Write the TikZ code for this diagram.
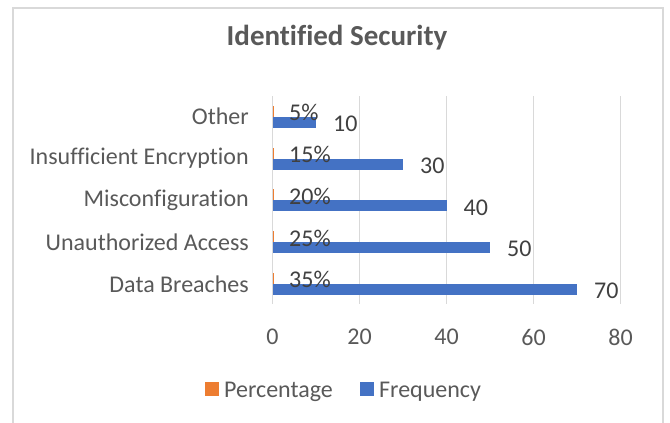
\documentclass[tikz,border=0pt]{standalone}
\usepackage{fontspec}
\setmainfont{Carlito}[Ligatures=NoCommon]
\usepackage{tikz}
\usetikzlibrary{positioning}

\definecolor{freqblue}{HTML}{4472C4}
\definecolor{pctorange}{HTML}{ED7D31}
\definecolor{gridgray}{HTML}{D9D9D9}
\definecolor{txtgray}{HTML}{595959}
\definecolor{valgray}{HTML}{404040}

\tikzset{
  lbl/.style={inner sep=0pt, text=txtgray, font=\fontsize{24}{28}\selectfont},
  val/.style={lbl, text=valgray, anchor=west},
}

\begin{document}
\begin{tikzpicture}[x=1pt, y=-1pt]
            \useasboundingbox (0,0) rectangle (670,423);
            % chart frame, open at the bottom
            \draw[gridgray, line width=1.5pt] (13,8) rectangle (663,440);
            \node[lbl, font=\bfseries\fontsize{29}{34}\selectfont] (title) at (337,38) {Identified Security};
            % vertical grid and tick labels
            \foreach \v [count=\k] in {0,20,...,80} {
                \draw[gridgray, line width=1.2pt] (272.5+4.35*\v, 96) -- (272.5+4.35*\v, 304);
                \node[lbl] (tick\k) at (272.5+4.35*\v, 337) {\v};
            }
            % one row per category: percentage bar on top, frequency bar below
            \foreach \cat/\pct/\freq [count=\i from 0] in {Other/5/10, Insufficient Encryption/15/30,
                    Misconfiguration/20/40, Unauthorized Access/25/50, Data Breaches/35/70} {
                \pgfmathsetmacro{\yc}{116.7+41.8*\i}
                \node[lbl, anchor=east] (cat\i) at (249,\yc) {\cat};
                \fill[pctorange] (272.5,\yc-11) rectangle +(0.0435*\pct,11);
                \fill[freqblue] (272.5,\yc) rectangle +(4.35*\freq,11);
                \node[val] (pct\i) at (289,\yc-4) {\pct\%};
                \node[val] (frq\i) at (272.5+4.35*\freq+17,\yc+7) {\freq};
            }
            % legend
            \fill[pctorange] (205,382) rectangle +(14,14);
            \node[lbl, anchor=base west] (legpct) at (224,397) {Percentage};
            \fill[freqblue] (360,382) rectangle +(14,14);
            \node[lbl, anchor=base west] (legfrq) at (379,397) {Frequency};
        \end{tikzpicture}
\end{document}
